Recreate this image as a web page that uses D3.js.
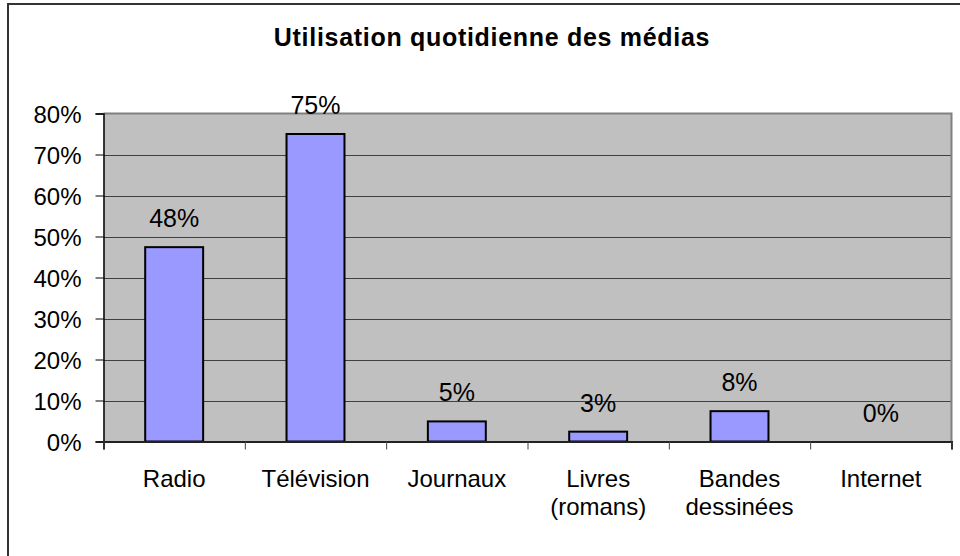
<!DOCTYPE html>
<html>
<head>
<meta charset="utf-8">
<script src="https://cdn.jsdelivr.net/npm/d3@7/dist/d3.min.js"></script>
<style>
  html, body { margin: 0; padding: 0; background: #fff; }
  svg { display: block; font-family: "Liberation Sans", Arial, sans-serif; }
</style>
</head>
<body>
<div id="chart"></div>
<script>
const title = 'Utilisation quotidienne des médias';
const categories = ['Radio', 'Télévision', 'Journaux', 'Livres (romans)', 'Bandes dessinées', 'Internet'];
const values = [0.474, 0.75, 0.049, 0.024, 0.074, 0];
const valueLabels = ['48%', '75%', '5%', '3%', '8%', '0%'];
const yTicks = [0, 0.1, 0.2, 0.3, 0.4, 0.5, 0.6, 0.7, 0.8];

const W = 960, H = 556;
const plot = { left: 103.5, right: 951.5, top: 113.5, bottom: 441.5 };

const svg = d3.select('#chart')
  .append('svg')
  .attr('width', W)
  .attr('height', H);

// outer chart border (right/bottom edges fall outside the picture)
svg.append('rect')
  .attr('x', 8).attr('y', 4)
  .attr('width', 1000).attr('height', 600)
  .attr('fill', '#fff')
  .attr('stroke', '#333')
  .attr('stroke-width', 2);

svg.append('text')
  .attr('x', 492)
  .attr('y', 46)
  .attr('text-anchor', 'middle')
  .attr('font-size', '25px')
  .attr('font-weight', 'bold')
  .attr('letter-spacing', '0.7px')
  .attr('fill', '#000')
  .text(title);

const x = d3.scaleBand()
  .domain(categories)
  .range([plot.left, plot.right])
  .paddingInner(0.59)
  .paddingOuter(0.295);

const xEdges = d3.scaleLinear()
  .domain([0, categories.length])
  .range([plot.left, plot.right]);

const y = d3.scaleLinear()
  .domain([0, 0.8])
  .range([plot.bottom, plot.top]);

// plot background
svg.append('rect')
  .attr('x', plot.left).attr('y', plot.top)
  .attr('width', plot.right - plot.left)
  .attr('height', plot.bottom - plot.top)
  .attr('fill', '#c0c0c0');

// gridlines
svg.append('g')
  .selectAll('line')
  .data(yTicks.slice(1, -1))
  .join('line')
  .attr('x1', plot.left).attr('x2', plot.right)
  .attr('y1', d => Math.round(y(d)) + 0.5)
  .attr('y2', d => Math.round(y(d)) + 0.5)
  .attr('stroke', '#404040')
  .attr('stroke-width', 1);

// plot border top / right
svg.append('path')
  .attr('d', `M${plot.left},${plot.top}H${plot.right}V${plot.bottom}`)
  .attr('fill', 'none')
  .attr('stroke', '#808080')
  .attr('stroke-width', 2);

// bars
svg.append('g')
  .selectAll('rect')
  .data(values.map((v, i) => ({ v, c: categories[i] })).filter(d => d.v > 0))
  .join('rect')
  .attr('x', d => x(d.c))
  .attr('y', d => y(d.v))
  .attr('width', x.bandwidth())
  .attr('height', d => y(0) - y(d.v))
  .attr('fill', '#9999ff')
  .attr('stroke', '#000')
  .attr('stroke-width', 2);

// value labels
svg.append('g')
  .selectAll('text')
  .data(values)
  .join('text')
  .attr('x', (d, i) => x(categories[i]) + x.bandwidth() / 2)
  .attr('y', d => y(d) - 20)
  .attr('text-anchor', 'middle')
  .attr('font-size', '25px')
  .attr('fill', '#000')
  .text((d, i) => valueLabels[i]);

// y axis
const yAxis = svg.append('g')
  .attr('transform', `translate(${plot.left},0)`)
  .call(d3.axisLeft(y).tickValues(yTicks).tickFormat(d3.format('.0%')).tickSize(8).tickPadding(14));
yAxis.select('.domain').attr('stroke', '#000').attr('stroke-width', 1.5);
yAxis.selectAll('.tick line').attr('stroke', '#000');
yAxis.selectAll('.tick text')
  .attr('font-size', '24px')
  .attr('font-family', '"Liberation Sans", Arial, sans-serif')
  .attr('fill', '#000')
  .attr('dy', '0.36em');

// x axis (ticks at category boundaries)
const xAxis = svg.append('g')
  .attr('transform', `translate(0,${plot.bottom})`)
  .call(d3.axisBottom(xEdges).tickValues(d3.range(categories.length + 1)).tickFormat('').tickSize(8));
xAxis.select('.domain').attr('stroke', '#222').attr('stroke-width', 2);
xAxis.selectAll('.tick line').attr('stroke', '#444');

// category labels
const catLabels = svg.append('g')
  .selectAll('text')
  .data(categories)
  .join('text')
  .attr('x', d => x(d) + x.bandwidth() / 2)
  .attr('y', 487)
  .attr('text-anchor', 'middle')
  .attr('font-size', '24px')
  .attr('fill', '#000');

catLabels.each(function (d) {
  const t = d3.select(this);
  d.split(' ').forEach((line, i) => {
    t.append('tspan')
      .attr('x', x(d) + x.bandwidth() / 2)
      .attr('dy', i === 0 ? 0 : 28)
      .text(line);
  });
});
</script>
</body>
</html>
